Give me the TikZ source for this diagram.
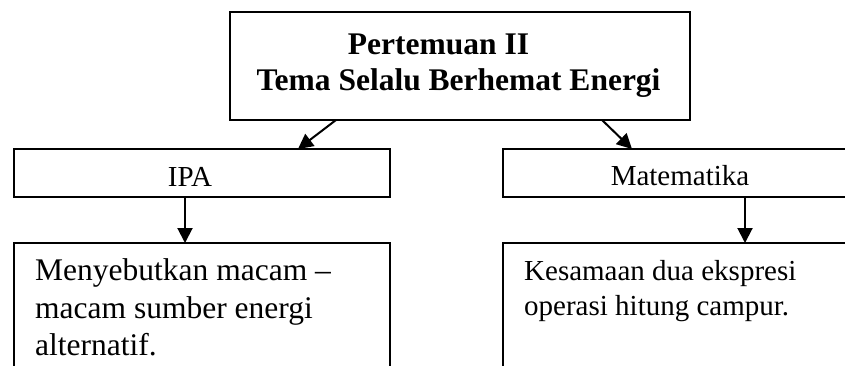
\documentclass[tikz,border=0pt]{standalone}
\usepackage{fontspec}
\setmainfont{Liberation Serif}
\usetikzlibrary{arrows.meta}

\begin{document}
\begin{tikzpicture}[x=1pt, y=-1pt,
  frame/.style={draw=black, line width=1.6pt, rectangle, inner sep=0pt, outer sep=0pt, anchor=north west},
  link/.style={draw=black, line width=2pt, -{Triangle[length=15pt, width=15pt]}},
  titletxt/.style={font=\fontsize{31.5}{36}\selectfont\bfseries, inner sep=0pt, anchor=base},
  headtxt/.style={font=\fontsize{29}{34}\selectfont, inner sep=0pt, anchor=base},
  bigtxt/.style={font=\fontsize{31.5}{37}\selectfont, inner sep=0pt, anchor=base west},
  smalltxt/.style={font=\fontsize{29}{34}\selectfont, inner sep=0pt, anchor=base west}]
  \useasboundingbox (0,0) rectangle (845,365);
  \clip (0,0) rectangle (845,365);

  % boxes
  \node[frame, minimum width=460pt, minimum height=108pt] (top) at (230,12) {};
  \node[frame, minimum width=376pt, minimum height=48pt] (ipa) at (14,149) {};
  \node[frame, minimum width=380pt, minimum height=48pt] (mat) at (503,149) {};
  \node[frame, minimum width=376pt, minimum height=170pt] (ipadesc) at (14,243) {};
  \node[frame, minimum width=380pt, minimum height=170pt] (matdesc) at (503,243) {};

  % texts
  \node[titletxt] (t1) at (438.5,54) {Pertemuan II};
  \node[titletxt] (t2) at (458.5,90) {Tema Selalu Berhemat Energi};
  \node[headtxt] (ipalbl) at (190,186.7) {IPA};
  \node[headtxt] (matlbl) at (680,185) {Matematika};
  \node[bigtxt] (l1) at (35,280.7) {Menyebutkan macam –};
  \node[bigtxt] (l2) at (35,318) {macam sumber energi};
  \node[bigtxt] (l3) at (35,355) {alternatif.};
  \node[smalltxt] (r1) at (524,280) {Kesamaan dua ekspresi};
  \node[smalltxt] (r2) at (524,315) {operasi hitung campur.};

  % connectors
  \draw[link] ([xshift=106pt]top.south west) -- ([xshift=-92pt]ipa.north east);
  \draw[link] ([xshift=-88pt]top.south east) -- ([xshift=129pt]mat.north west);
  \draw[link] ([xshift=171pt]ipa.south west) -- ([xshift=171pt]ipadesc.north west);
  \draw[link] ([xshift=242pt]mat.south west) -- ([xshift=242pt]matdesc.north west);
\end{tikzpicture}
\end{document}
